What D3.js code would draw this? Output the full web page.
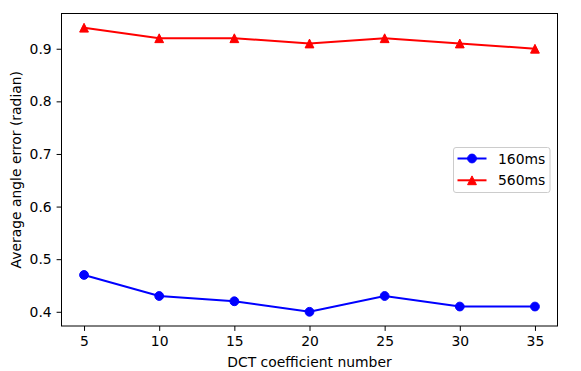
<!DOCTYPE html>
<html>
<head>
<meta charset="utf-8">
<script src="https://cdn.jsdelivr.net/npm/d3@7"></script>
<style>
  body { margin: 0; background: #fff; }
  text { font-family: "DejaVu Sans", sans-serif; fill: #000; }
</style>
</head>
<body>
<div id="chart"></div>
<script>
// data
var coeffs = [5, 10, 15, 20, 25, 30, 35];
var err160 = [0.47, 0.43, 0.42, 0.40, 0.43, 0.41, 0.41];
var err560 = [0.94, 0.92, 0.92, 0.91, 0.92, 0.91, 0.90];
var xTicks = [5, 10, 15, 20, 25, 30, 35];
var yTicks = [0.4, 0.5, 0.6, 0.7, 0.8, 0.9];

var W = 581, H = 371;
var margin = { top: 13.5, right: 23.5, bottom: 45, left: 61.5 },
    width = W - margin.left - margin.right,
    height = H - margin.top - margin.bottom;

var x = d3.scaleLinear().domain([3.5, 36.5]).range([0, width]);
var y = d3.scaleLinear().domain([0.373, 0.967]).range([height, 0]);

var svg = d3.select("#chart").append("svg")
    .attr("width", W)
    .attr("height", H)
    .append("g")
    .attr("transform", "translate(" + margin.left + "," + margin.top + ")");

// axes
var xAxis = svg.append("g")
    .attr("transform", "translate(0," + height + ")")
    .call(d3.axisBottom(x).tickValues(xTicks).tickSize(4.9).tickPadding(4.9));
var yAxis = svg.append("g")
    .call(d3.axisLeft(y).tickValues(yTicks).tickFormat(d3.format(".1f")).tickSize(4.9).tickPadding(4.9));
[xAxis, yAxis].forEach(function (a) {
    a.select(".domain").remove();
    a.selectAll("text").style("font-size", "13.9px").style("font-family", "DejaVu Sans");
    a.selectAll("line").attr("stroke", "#000").attr("stroke-width", 1);
});

// frame
svg.append("rect")
    .attr("width", width).attr("height", height)
    .attr("fill", "none").attr("stroke", "#000").attr("stroke-width", 1);

var line = d3.line()
    .x(function (d, i) { return x(coeffs[i]); })
    .y(function (d) { return y(d); });

var series = [
    { name: "160ms", values: err160, color: "#0000ff", marker: "circle" },
    { name: "560ms", values: err560, color: "#ff0000", marker: "triangle" }
];

// matplotlib-like markers (size 6pt plus 1pt edge)
var r = 4.4;
var circleSym = d3.symbol().type(d3.symbolCircle).size(Math.PI * r * r);
function markerPath(s) {
    if (s.marker === "circle") return circleSym();
    return "M0," + (-r) + "L" + r + "," + r + "L" + (-r) + "," + r + "Z";
}

series.forEach(function (s) {
    svg.append("path")
        .datum(s.values)
        .attr("fill", "none")
        .attr("stroke", s.color)
        .attr("stroke-width", 2)
        .attr("d", line);
    svg.selectAll(".m-" + s.marker)
        .data(s.values)
        .enter().append("path")
        .attr("class", "m-" + s.marker)
        .attr("d", markerPath(s))
        .attr("fill", s.color)
        .attr("stroke", s.color)
        .attr("stroke-width", 1)
        .attr("stroke-linejoin", "miter")
        .attr("transform", function (d, i) {
            return "translate(" + x(coeffs[i]) + "," + y(d) + ")";
        });
});

// axis labels
svg.append("text")
    .attr("x", width / 2).attr("y", height + 41)
    .attr("text-anchor", "middle")
    .style("font-size", "13.9px")
    .text("DCT coefficient number");
svg.append("text")
    .attr("transform", "rotate(-90)")
    .attr("x", -height / 2).attr("y", -40.5)
    .attr("text-anchor", "middle")
    .style("font-size", "13.9px")
    .text("Average angle error (radian)");

// legend
var lg = svg.append("g").attr("transform", "translate(" + (453.5 - margin.left) + "," + (147.5 - margin.top) + ")");
lg.append("rect")
    .attr("width", 96.5).attr("height", 45)
    .attr("rx", 2.5)
    .attr("fill", "#fff").attr("fill-opacity", 0.8)
    .attr("stroke", "#cccccc").attr("stroke-width", 1);
series.forEach(function (s, i) {
    var cy = 11 + i * 21.8;
    lg.append("line")
        .attr("x1", 4).attr("x2", 33)
        .attr("y1", cy).attr("y2", cy)
        .attr("stroke", s.color).attr("stroke-width", 2);
    lg.append("path")
        .attr("d", markerPath(s))
        .attr("fill", s.color)
        .attr("stroke", s.color)
        .attr("stroke-width", 1)
        .attr("transform", "translate(18.5," + cy + ")");
    lg.append("text")
        .attr("x", 44.5).attr("y", cy + 5)
        .style("font-size", "13.9px")
        .text(s.name);
});
</script>
</body>
</html>
